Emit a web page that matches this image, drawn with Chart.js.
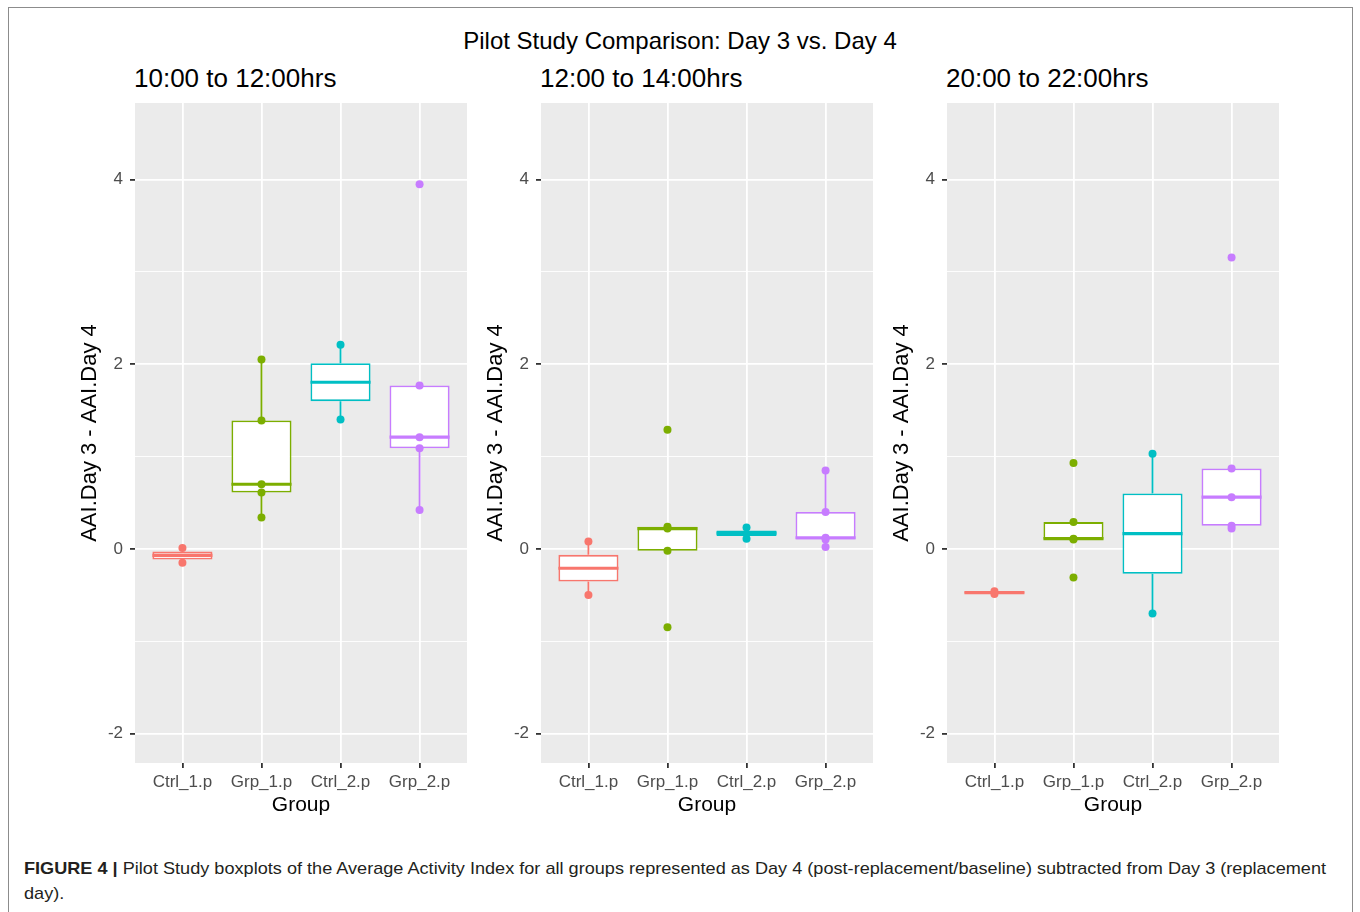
<!DOCTYPE html>
<html>
<head>
<meta charset="utf-8">
<script src="https://cdn.jsdelivr.net/npm/chart.js@4.4.1/dist/chart.umd.min.js"></script>
<style>
html,body{margin:0;padding:0;background:#fff;width:1360px;height:912px;overflow:hidden;font-family:"Liberation Sans",Arial,sans-serif;}
#frame{position:absolute;left:8px;top:7px;width:1343px;height:960px;border:1px solid #8c8c8c;}
.t{position:absolute;white-space:nowrap;color:#000;}
#main{left:0;width:1360px;text-align:center;top:29px;font-size:24px;line-height:24px;}
.pt{top:65px;font-size:26px;line-height:26px;}
canvas{position:absolute;}
#cap{position:absolute;left:24px;top:856px;font-size:17px;line-height:25px;color:#231f20;transform-origin:0 0;white-space:nowrap;}
#cap div{display:inline-block;}
</style>
</head>
<body>
<div id="frame"></div>
<div id="main" class="t">Pilot Study Comparison: Day 3 vs. Day 4</div>
<div id="pt0" class="t pt"></div>
<div id="pt1" class="t pt"></div>
<div id="pt2" class="t pt"></div>
<canvas id="c0" width="396" height="720"></canvas>
<canvas id="c1" width="396" height="720"></canvas>
<canvas id="c2" width="396" height="720"></canvas>
<div id="cap"><div id="capl1"><b>FIGURE 4 |</b> Pilot Study boxplots of the Average Activity Index for all groups represented as Day 4 (post-replacement/baseline) subtracted from Day 3 (replacement</div><br><div>day).</div></div>
<script>
// ---- data ----
const groups = ['Ctrl_1.p', 'Grp_1.p', 'Ctrl_2.p', 'Grp_2.p'];
const groupColors = ['#F8766D', '#7CAE00', '#00BFC4', '#C77CFF'];
const panelTitles = ['10:00 to 12:00hrs', '12:00 to 14:00hrs', '20:00 to 22:00hrs'];
const yTicks = [-2, -1, 0, 1, 2, 3, 4];
const yTickLabels = ['-2', '', '0', '', '2', '', '4'];

// Panel 1: 10:00 to 12:00hrs
const p1Low = [-0.15, 0.34, 1.40, 0.42];
const p1Q1 = [-0.115, 0.61, 1.60, 1.09];
const p1Median = [-0.07, 0.70, 1.805, 1.21];
const p1Q3 = [-0.03, 1.39, 2.01, 1.77];
const p1High = [0.01, 2.05, 2.21, 1.77];
const p1Points = [[0.01, -0.15], [2.05, 1.39, 0.70, 0.61, 0.34], [2.21, 1.40], [3.95, 1.77, 1.21, 1.09, 0.42]];

// Panel 2: 12:00 to 14:00hrs
const p2Low = [-0.50, -0.02, 0.11, 0.02];
const p2Q1 = [-0.355, -0.02, 0.14, 0.10];
const p2Median = [-0.21, 0.22, 0.17, 0.12];
const p2Q3 = [-0.065, 0.24, 0.20, 0.40];
const p2High = [0.08, 0.24, 0.23, 0.85];
const p2Points = [[0.08, -0.50], [1.29, 0.24, 0.22, -0.02, -0.85], [0.23, 0.11], [0.85, 0.40, 0.12, 0.10, 0.02]];

// Panel 3: 20:00 to 22:00hrs
const p3Low = [-0.49, 0.10, -0.70, 0.22];
const p3Q1 = [-0.48, 0.10, -0.27, 0.25];
const p3Median = [-0.475, 0.11, 0.165, 0.56];
const p3Q3 = [-0.465, 0.29, 0.60, 0.87];
const p3High = [-0.46, 0.29, 1.03, 0.87];
const p3Points = [[-0.46, -0.49], [0.93, 0.29, 0.11, 0.10, -0.31], [1.03, -0.70], [3.155, 0.87, 0.56, 0.25, 0.22]];

// ---- drawing ----
const FONT = '"Liberation Sans", Arial, sans-serif';
Chart.defaults.font.family = FONT;

const boxPlugin = {
  id: 'boxParts',
  beforeDraw(chart) {
    const {ctx, chartArea: a} = chart;
    ctx.save();
    ctx.fillStyle = '#EBEBEB';
    ctx.fillRect(a.left, a.top, a.width, a.height);
    ctx.restore();
  },
  beforeDatasetsDraw(chart, args, opts) {
    const {ctx, scales: {x, y}} = chart;
    ctx.save();
    ctx.lineWidth = 1.8;
    opts.q1.forEach((q, i) => {
      const px = x.getPixelForValue(i + 1);
      ctx.strokeStyle = groupColors[i];
      ctx.beginPath();
      ctx.moveTo(px, y.getPixelForValue(opts.lo[i]));
      ctx.lineTo(px, y.getPixelForValue(opts.q1[i]));
      ctx.moveTo(px, y.getPixelForValue(opts.q3[i]));
      ctx.lineTo(px, y.getPixelForValue(opts.hi[i]));
      ctx.stroke();
    });
    ctx.restore();
  },
  afterDatasetDraw(chart, args, opts) {
    if (args.meta.type !== 'bar') return;
    const {ctx, scales: {y}} = chart;
    ctx.save();
    ctx.lineWidth = 3.2;
    args.meta.data.forEach((el, i) => {
      const py = y.getPixelForValue(opts.med[i]);
      ctx.strokeStyle = groupColors[i];
      ctx.beginPath();
      ctx.moveTo(el.x - el.width / 2, py);
      ctx.lineTo(el.x + el.width / 2, py);
      ctx.stroke();
    });
    ctx.restore();
  }
};

function makePanel(idx, lo, q1, med, q3, hi, pts) {
  const boxData = groups.map((g, i) => ({x: i + 1, y: [q1[i], q3[i]]}));
  const ptData = [], ptColors = [];
  pts.forEach((arr, i) => arr.forEach(v => { ptData.push({x: i + 1, y: v}); ptColors.push(groupColors[i]); }));
  const left = [77, 483, 889][idx];
  const cv = document.getElementById('c' + idx);
  cv.style.left = left + 'px';
  cv.style.top = '98px';
  const tdiv = document.getElementById('pt' + idx);
  tdiv.textContent = panelTitles[idx];
  tdiv.style.left = (left + 57) + 'px';

  new Chart(cv, {
    type: 'bar',
    data: {
      datasets: [
        {type: 'scatter', data: ptData, backgroundColor: ptColors, borderWidth: 0, pointRadius: 4, order: 0},
        {type: 'bar', data: boxData, backgroundColor: '#FFFFFF', borderColor: groupColors, borderWidth: 1.8,
         borderSkipped: false, barPercentage: 0.76, categoryPercentage: 1, order: 1}
      ]
    },
    options: {
      responsive: false, animation: false, events: [],
      layout: {padding: {top: 5, right: 6, bottom: 0, left: 0}},
      plugins: {
        legend: {display: false}, tooltip: {enabled: false}, title: {display: false},
        boxParts: {lo: lo, q1: q1, med: med, q3: q3, hi: hi}
      },
      scales: {
        x: {
          type: 'linear', min: 0.4, max: 4.6, offset: false,
          afterBuildTicks: s => { s.ticks = groups.map((g, i) => ({value: i + 1})); },
          afterFit: s => { s.height = 55; s.paddingLeft = 0; s.paddingRight = 0; },
          ticks: {callback: v => groups[v - 1], color: '#4D4D4D', font: {size: 17}, padding: 4, autoSkip: false, maxRotation: 0},
          grid: {offset: false, color: '#FFFFFF', lineWidth: 1.8, tickColor: '#333333', tickLength: 5},
          border: {display: false},
          title: {display: true, text: 'Group', color: '#000', font: {size: 21}, padding: 0}
        },
        y: {
          type: 'linear', min: -2.32, max: 4.83,
          afterBuildTicks: s => { s.ticks = yTicks.map(v => ({value: v})); },
          afterFit: s => { s.width = 58; s.paddingTop = 0; s.paddingBottom = 0; },
          ticks: {callback: v => yTickLabels[yTicks.indexOf(v)], color: '#4D4D4D', font: {size: 17}, padding: 7},
          grid: {
            color: '#FFFFFF',
            lineWidth: c => (c.tick && c.tick.value % 2 === 0) ? 1.8 : 0.9,
            tickColor: c => (c.tick && c.tick.value % 2 === 0) ? '#333333' : 'rgba(0,0,0,0)',
            tickLength: 5
          },
          border: {display: false},
          title: {display: true, text: 'AAI.Day 3 - AAI.Day 4', color: '#000', font: {size: 22}, padding: 0}
        }
      }
    },
    plugins: [boxPlugin]
  });
}

makePanel(0, p1Low, p1Q1, p1Median, p1Q3, p1High, p1Points);
makePanel(1, p2Low, p2Q1, p2Median, p2Q3, p2High, p2Points);
makePanel(2, p3Low, p3Q1, p3Median, p3Q3, p3High, p3Points);

const l1 = document.getElementById('capl1');
const w = l1.getBoundingClientRect().width;
document.getElementById('cap').style.transform = 'scaleX(' + (1302 / w) + ')';
</script>
</body>
</html>
